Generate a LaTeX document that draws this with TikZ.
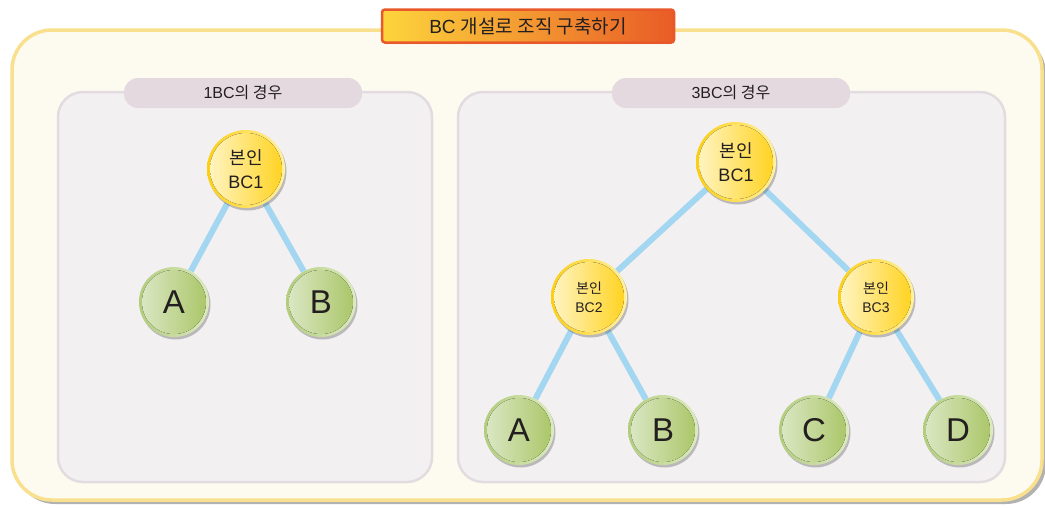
\documentclass[tikz,border=0pt]{standalone}
\usepackage{fontspec}
\setmainfont{Liberation Sans}
\newfontfamily\kr{Noto Sans CJK KR}
\usetikzlibrary{shadows,backgrounds}
\pgfdeclarelayer{edges}
\pgfsetlayers{background,edges,main}
\definecolor{ink}{HTML}{231F20}
\definecolor{frameline}{HTML}{F8E08E}
\definecolor{framefill}{HTML}{FDFBEF}
\definecolor{panelfill}{HTML}{F3F0F2}
\definecolor{panelline}{HTML}{E2DBE0}
\definecolor{pillfill}{HTML}{E5D9E0}
\definecolor{titleL}{HTML}{FDD53C}
\definecolor{titleR}{HTML}{E95B26}
\definecolor{titleline}{HTML}{E8582A}
\definecolor{edgeblue}{HTML}{A3D6F0}
\definecolor{bcrimL}{HTML}{FCCF12}
\definecolor{bcrimR}{HTML}{FFF1A4}
\definecolor{bcL}{HTML}{FFF5C6}
\definecolor{bcR}{HTML}{FFD21C}
\definecolor{grrimL}{HTML}{B2CD7C}
\definecolor{grrimR}{HTML}{DDEAC2}
\definecolor{grL}{HTML}{DCE8C6}
\definecolor{grR}{HTML}{A9C566}

\begin{document}
\begin{tikzpicture}[x=1pt,y=-1pt,text=ink,
  nodeshadow/.style={drop shadow={shadow xshift=1.5pt,shadow yshift=-2.5pt,opacity=.4,fill=black!60}},
  bcnode/.style={circle,inner sep=0pt,minimum size=#1,align=center,nodeshadow,
    left color=bcrimL,right color=bcrimR,
    path picture={\fill[left color=bcL,right color=bcR] (path picture bounding box.center) circle (#1/2-3pt);}},
  member/.style={circle,inner sep=0pt,minimum size=70pt,nodeshadow,
    left color=grrimL,right color=grrimR,
    font=\fontsize{33}{33}\selectfont,
    path picture={\fill[left color=grL,right color=grR] (path picture bounding box.center) circle (32pt);}},
  link/.style={draw=edgeblue,line width=6pt},
  panel/.style={draw=panelline,fill=panelfill,line width=2.5pt,rounded corners=25pt},
  pill/.style={fill=pillfill,rounded corners=14pt,minimum width=238pt,minimum height=30pt,
    inner sep=0pt,font=\fontsize{16}{16}\selectfont}]
\useasboundingbox (0,0) rectangle (1045,507);

% frame and panels
\begin{scope}[on background layer]
\fill[black!30,rounded corners=40pt] (15,34) rectangle (1046,504);
\draw[frameline,fill=framefill,line width=3.5pt,rounded corners=40pt] (12,30) rectangle (1042,500);
\draw[panel] (58,92) rectangle (432,482);
\draw[panel] (458,92) rectangle (1005,482);
\end{scope}

\node[draw=titleline,line width=2.5pt,rounded corners=3pt,left color=titleL,right color=titleR,
  minimum width=292pt,minimum height=33pt,inner sep=0pt,font=\fontsize{19}{19}\selectfont,
  drop shadow={shadow xshift=1pt,shadow yshift=-1.5pt,opacity=.3}] (title) at (528,26) {BC {\kr 개설로 조직 구축하기}};

\node[pill] (case1) at (243,93) {1BC{\kr 의 경우}};
\node[pill] (case3) at (731,93) {3BC{\kr 의 경우}};

% 1BC
\node[bcnode=78pt,font=\fontsize{18}{24}\selectfont] (root1) at (246,169) {{\kr 본인}\\BC1};
\node[member] (a1) at (174,302) {A};
\node[member] (b1) at (321,302) {B};

% 3BC
\node[bcnode=80pt,font=\fontsize{18}{24}\selectfont] (root3) at (736,162) {{\kr 본인}\\BC1};
\node[bcnode=76pt,font=\fontsize{14}{19}\selectfont] (bc2) at (589,297) {{\kr 본인}\\BC2};
\node[bcnode=76pt,font=\fontsize{14}{19}\selectfont] (bc3) at (876,297) {{\kr 본인}\\BC3};
\node[member] (a3) at (519,430) {A};
\node[member] (b3) at (663,430) {B};
\node[member] (c3) at (814,430) {C};
\node[member] (d3) at (958,430) {D};

\begin{pgfonlayer}{edges}
\draw[link] (root1) -- (a1);
\draw[link] (root1) -- (b1);
\draw[link] (root3) -- (bc2);
\draw[link] (root3) -- (bc3);
\draw[link] (bc2) -- (a3);
\draw[link] (bc2) -- (b3);
\draw[link] (bc3) -- (c3);
\draw[link] (bc3) -- (d3);
\end{pgfonlayer}
\end{tikzpicture}
\end{document}
